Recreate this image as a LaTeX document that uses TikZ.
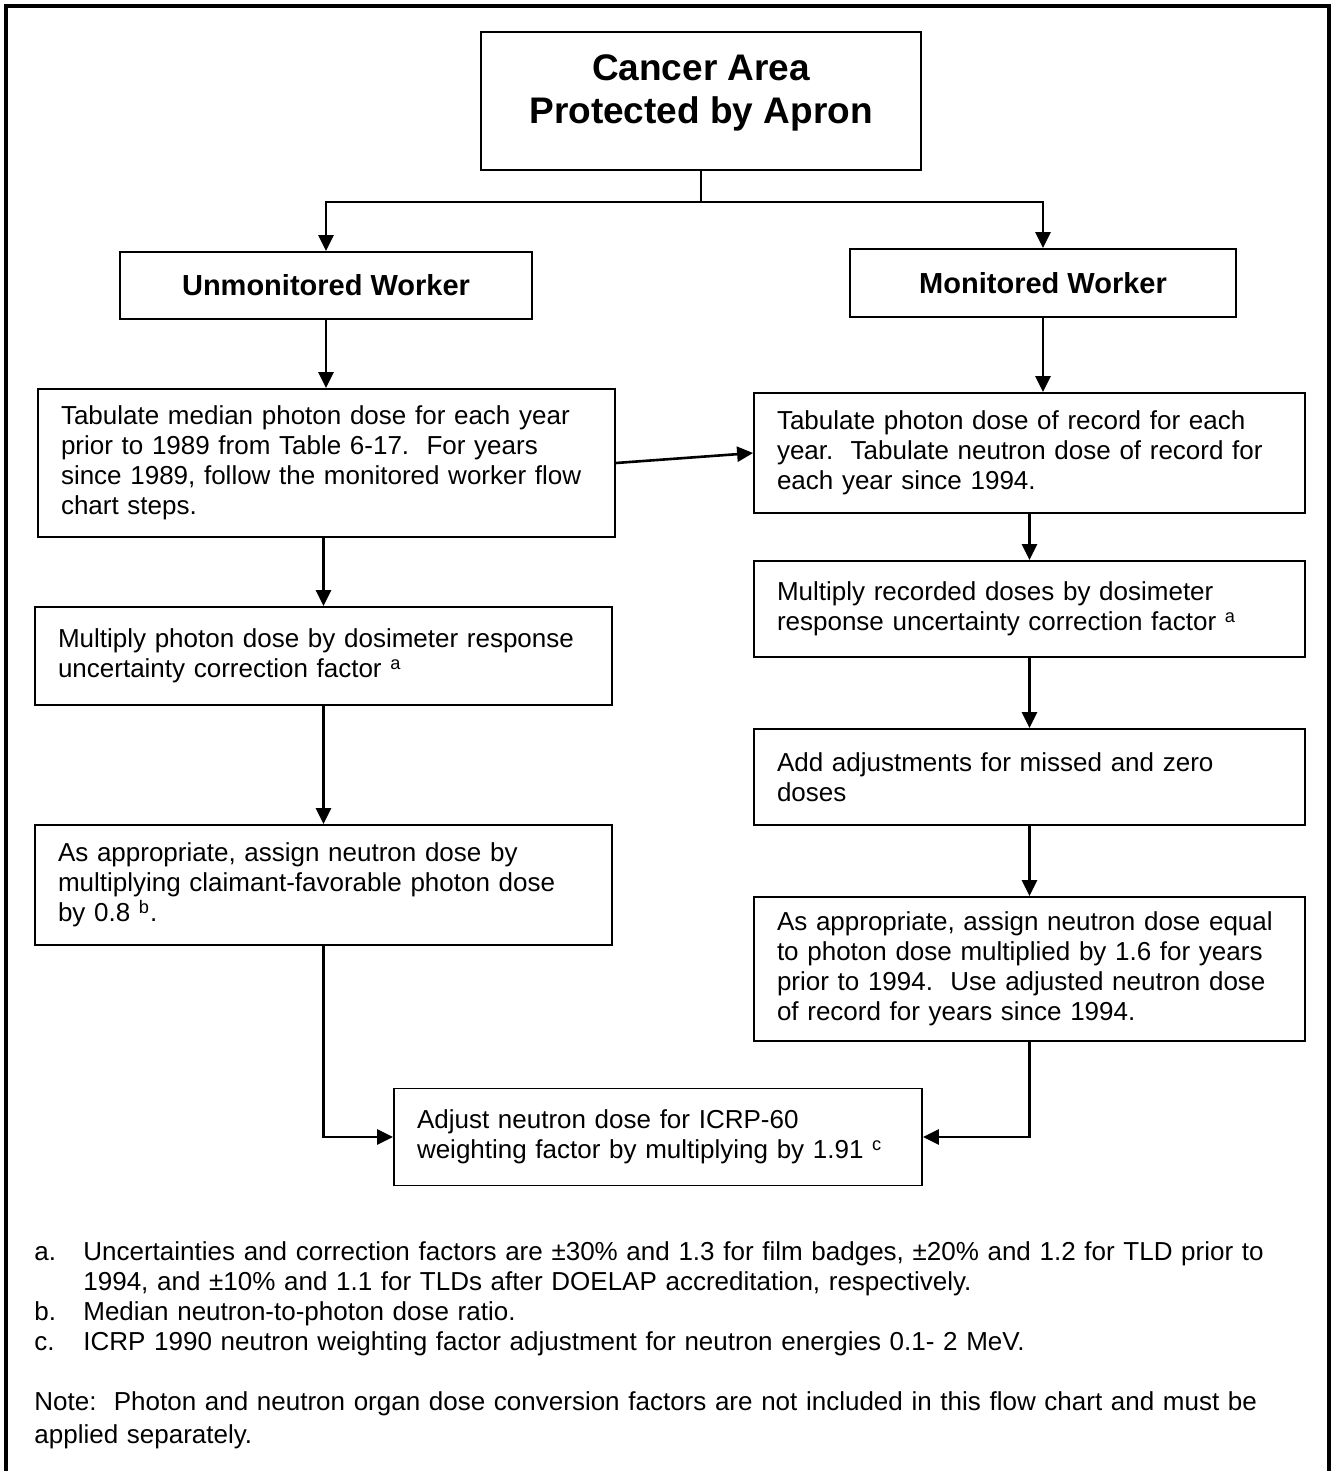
\documentclass[tikz,border=0pt]{standalone}
\usepackage{fontspec}
\setmainfont{Liberation Sans}
\usetikzlibrary{arrows.meta, positioning, calc}
\frenchspacing

\begin{document}
\begin{tikzpicture}[
  x=0.5pt, y=-0.5pt,
  stepbox/.style={draw, line width=0.9pt, align=left, inner xsep=11.5pt, inner ysep=0pt, font=\fontsize{13pt}{15pt}\selectfont},
  headbox/.style={draw, line width=0.9pt, align=center, inner ysep=0pt, font=\fontsize{14.5pt}{17pt}\selectfont\bfseries},
  flow/.style={-{Triangle[length=8pt, width=7.5pt]}, line width=1.3pt},
  notetext/.style={anchor=north west, inner sep=0pt, align=left, font=\fontsize{13pt}{15pt}\selectfont}
]
  \useasboundingbox (0,0) rectangle (1332,1471);
  \draw[line width=2pt] (6,1471) -- (6,6) -- (1329,6) -- (1329,1471);

  \node[headbox, minimum width=220pt, minimum height=69pt, font=\fontsize{18.5pt}{21.5pt}\selectfont\bfseries] (apron) at (701,101) {\raisebox{4pt}[\height][\depth]{\begin{tabular}{@{}c@{}}Cancer Area\\Protected by Apron\end{tabular}}};
  \node[headbox, minimum width=206pt, minimum height=33.5pt] (unmon) at (326,285.5) {Unmonitored Worker};
  \node[headbox, minimum width=193pt, minimum height=34pt] (mon) at (1043,283) {Monitored Worker};

  \node[stepbox, text width=265.5pt, minimum height=74pt] (tabmed) at (326.5,463) {Tabulate median photon dose for each year\\prior to 1989 from Table 6-17.~ For years\\since 1989, follow the monitored worker flow\\chart steps.};
  \node[stepbox, text width=265.5pt, minimum height=49pt] (multphot) at (323.5,656) {Multiply photon dose by dosimeter response\\uncertainty correction factor \textsuperscript{a}};
  \node[stepbox, text width=265.5pt, minimum height=60pt] (assignlow) at (323.5,885) {As appropriate, assign neutron dose by\\multiplying claimant-favorable photon dose\\by 0.8 \textsuperscript{b}.};

  \node[stepbox, text width=252.5pt, minimum height=60pt] (tabrec) at (1029.5,453) {Tabulate photon dose of record for each\\year.~ Tabulate neutron dose of record for\\each year since 1994.};
  \node[stepbox, text width=252.5pt, minimum height=48pt] (multrec) at (1029.5,609) {Multiply recorded doses by dosimeter\\response uncertainty correction factor \textsuperscript{a}};
  \node[stepbox, text width=252.5pt, minimum height=48pt] (missed) at (1029.5,777) {Add adjustments for missed and zero\\doses};
  \node[stepbox, text width=252.5pt, minimum height=72pt] (assignhigh) at (1029.5,969) {As appropriate, assign neutron dose equal\\to photon dose multiplied by 1.6 for years\\prior to 1994.~ Use adjusted neutron dose\\of record for years since 1994.};

  \node[stepbox, text width=241pt, minimum height=48.5pt] (icrp) at (658,1137) {Adjust neutron dose for ICRP-60\\weighting factor by multiplying by 1.91 \textsuperscript{c}};

  \coordinate (split) at ($(apron.south)+(0,31)$);
  \draw[line width=0.6pt] (apron.south) -- (split);
  \draw[flow] (split) -| (unmon.north);
  \draw[flow] (split) -| (mon.north);
  \draw[flow] (unmon.south) -- (unmon.south |- tabmed.north);
  \draw[flow] (tabmed.east) -- (tabrec.west);
  \draw[flow] (mon.south) -- (mon.south |- tabrec.north);
  \draw[flow] (tabmed.south -| multphot.north) -- (multphot.north);
  \draw[flow] (multphot.south) -- (assignlow.north);
  \draw[flow] (assignlow.south) |- (icrp.west);
  \draw[flow] (tabrec.south) -- (multrec.north);
  \draw[flow] (multrec.south) -- (missed.north);
  \draw[flow] (missed.south) -- (assignhigh.north);
  \draw[flow] (assignhigh.south) |- (icrp.east);

  \node[notetext, text width=640pt] (notes) at (34,1241) {\makebox[24.5pt][l]{a.}Uncertainties and correction factors are ±30\% and 1.3 for film badges, ±20\% and 1.2 for TLD prior to\\\hspace*{24.5pt}1994, and ±10\% and 1.1 for TLDs after DOELAP accreditation, respectively.\\\makebox[24.5pt][l]{b.}Median neutron-to-photon dose ratio.\\\makebox[24.5pt][l]{c.}ICRP 1990 neutron weighting factor adjustment for neutron energies 0.1- 2 MeV.\\[15pt]Note:~ Photon and neutron organ dose conversion factors are not included in this flow chart and must be\\[1.5pt]applied separately.};
\end{tikzpicture}
\end{document}
